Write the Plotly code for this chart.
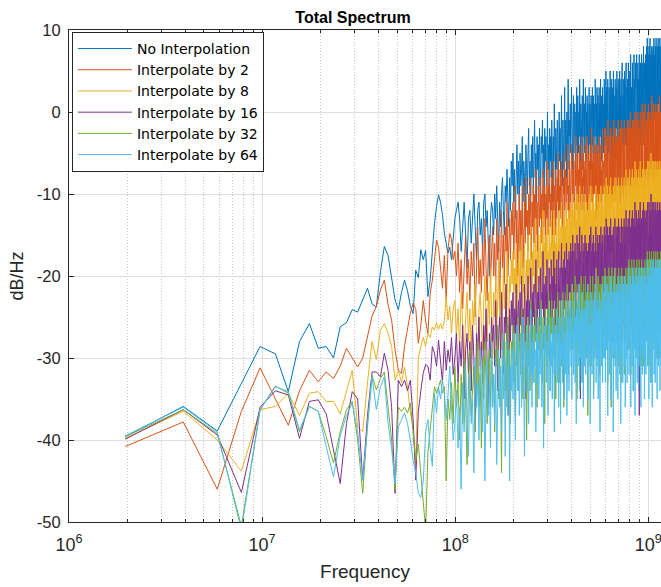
import plotly.graph_objects as go

# Frequency grid: FFT bin spacing of the spectrum estimate (Hz)
freq_step_hz = 1.953125e6

# Power spectral density of each version of the signal (dB/Hz), one value per bin
no_interp = [
    -39.6, -35.9, -38.9, -33.0, -28.6, -29.5, -34.1, -28.0, -25.8, -28.8,
    -28.6, -30.0, -26.2, -25.7, -24.1, -24.4, -22.9, -21.5, -23.4, -23.8,
    -19.5, -16.4, -17.5, -20.0, -22.9, -24.1, -22.0, -20.5, -21.8, -23.7,
    -24.6, -19.3, -20.2, -16.8, -18.0, -16.9, -22.5, -20.5, -16.5, -13.6,
    -11.5, -10.1, -11.0, -12.5, -14.8, -16.2, -17.2, -16.5, -18.0, -15.5,
    -13, -12, -11, -13, -17, -14, -11, -15, -19, -13,
    -12, -16, -13, -10, -14, -18, -12, -11, -15, -13,
    -17, -11, -10, -14, -12, -16, -20, -13, -11, -12,
    -15, -10, -13, -9, -12, -17, -11, -14, -10, -8,
    -12, -15, -9, -11, -7, -10, -14, -8, -12, -6,
    -9, -5, -11, -7, -13, -8, -4, -10, -6, -12,
    -5, -9, -7, -3, -11, -6, -8, -14, -4, -7,
    -10, -5, -2, -9, -6, -12, -4, -8, -3, -10,
    -6, -1, -8, -5, -11, -3, -7, -4, -9, -2,
    -6, -10, -3, -5, -1, -8, -4, -12, -2, -6,
    -3, -9, -5, 0, -7, -4, -10, -2, -6, -3,
    -8, -1, -5, -11, -3, -6, 1, -4, -9, -2,
    -5, -7, -1, -3, -10, -4, 0, -6, -2, -8,
    -4, 2, -5, -9, -1, -3, -7, -2, 3, -6,
    -1, -4, -8, 0, -5, -2, 4, -3, -7, -1,
    -3, 1, -5, -2, 3, -4, 0, -7, -1, 2,
    -5, -2, 1, -3, -8, 0, -4, 3, -1, -6,
    2, -2, -5, 0, -3, 4, -1, -6, 1, -3,
    -1, -4, 2, -2, -7, 4, 0, -3, 1, -5,
    -2, 3, -1, -6, 0, -3, 2, -4, 1, -2,
    -5, 0, 3, -2, -4, 1, -1, -7, 2, -3,
    0, -4, 3, -1, -5, 2, -2, -6, 1, -1,
    -3, 4, -2, 0, -5, 1, -3, 3, -1, -6,
    2, -2, 0, -4, 3, -1, -5, 1, -2, 4,
    -3, 0, -6, 2, -1, -4, 3, -2, 1, -5,
    1, -3, 4, -1, -5, 2, 0, -2, 5, -4,
    0, 3, -2, -6, 1, 4, -1, -3, 2, -5,
    3, -1, 0, -4, 5, -2, 1, -3, 2, -6,
    4, 0, -2, 3, -5, 1, -1, 5, -3, 0,
    2, -4, 1, -1, 4, -3, 0, -6, 3, 1,
    -2, 5, -1, 0, -4, 2, -3, 4, -1, -5,
    3, 0, -2, 5, -4, 1, -1, 2, -6, 4,
    0, -3, 3, -1, 6, -2, 1, -4, 2, 0,
    -5, 4, -1, 1, -3, 5, -2, 0, 3, -4,
    2, -1, 6, -3, 0, -5, 3, 1, -2, 4,
    -1, 3, 0, 6, -2, 2, -4, 4, 1, -3,
    5, 0, 2, -3, 7, -1, 1, -5, 3, 0,
    4, -2, 2, 6, -1, 0, -4, 5, 1, -2,
    3, 7, -1, 2, -3, 4, 0, -5, 6, 1,
    -2, 3, 5, -1, 0, 7, -3, 2, 4, -4,
    1, 6, -2, 3, 0, -5, 4, 2, -1, 7,
    0, -3, 5, 1, 3, -2, 6, -4, 2, 0,
    4, -1, 7, 2, -3, 5, 0, 3, -2, 6,
    1, -4, 4, 8, 0, 2, -2, 5, 3, -1,
    6, 0, -3, 4, 2, 7, -1, 1, 5, -2,
    3, 8, 0, 5, -2, 9, 2, 4, -1, 6,
    1, 7, 3, -3, 5, 2, 8, 0, 4, -1,
    6, 2, 9, 1, -2, 5, 3, 7, 0, 4,
    -1, 6, 2, 8, 3, -3, 5, 1, 7, 2,
    4, 0, 8, 3, -2, 6, 1, 9, 2, 5,
    0, 7, 3, -1, 5, 2, 8, 4, -2, 6,
    3, 9, 1, 5, -1, 7, 2, 4, 0, 8,
    2, 5, -2, 6, 3, 9, 1, 4, 7, 0,
    5, 2, 8, -1, 4, 6, 1, 9, 3, 5,
    0, 7, 4, 2, 8, -1, 5, 3, 6, 2,
]

interp_2 = [
    -40.8, -37.8, -46.0, -36.5, -31.2, -35.1, -38.2, -34.0, -31.5, -32.9,
    -31.7, -32.5, -31.0, -28.8, -30.0, -31.1, -30.0, -27.4, -24.9, -23.7,
    -21.7, -20.5, -23.5, -25.4, -29.0, -31.5, -31.9, -28.5, -26.2, -24.5,
    -23.3, -24.0, -28.2, -26.0, -23.0, -25.5, -27.0, -22.1, -20.5, -18.0,
    -15.6, -16.5, -19.0, -21.5, -17.5, -23.0, -16.8, -14.8, -15.5, -18.0,
    -17, -20, -16, -22, -18, -24, -19, -15, -21, -18,
    -23, -17, -20, -16, -25, -19, -14, -21, -18, -22,
    -16, -20, -13, -19, -23, -17, -15, -21, -18, -14,
    -20, -16, -22, -13, -18, -15, -24, -17, -12, -19,
    -15, -21, -14, -17, -11, -20, -16, -13, -18, -12,
    -15, -11, -18, -13, -9, -16, -12, -20, -14, -10,
    -17, -12, -15, -9, -19, -13, -11, -16, -8, -14,
    -12, -17, -10, -15, -8, -13, -18, -11, -14, -9,
    -16, -10, -13, -7, -15, -11, -19, -9, -12, -14,
    -8, -13, -10, -16, -11, -7, -14, -12, -9, -17,
    -10, -13, -6, -12, -15, -9, -11, -7, -14, -10,
    -12, -8, -16, -10, -6, -13, -9, -11, -15, -7,
    -10, -13, -8, -11, -5, -14, -9, -12, -7, -10,
    -13, -6, -9, -11, -15, -8, -10, -5, -12, -9,
    -7, -11, -14, -8, -10, -4, -12, -9, -13, -6,
    -9, -12, -6, -10, -4, -8, -13, -7, -11, -5,
    -10, -8, -14, -6, -9, -3, -11, -7, -12, -8,
    -5, -10, -7, -13, -9, -4, -11, -6, -8, -12,
    -7, -3, -10, -8, -12, -5, -9, -6, -14, -7,
    -10, -4, -8, -11, -6, -9, -3, -12, -7, -10,
    -5, -8, -13, -6, -9, -4, -11, -7, -10, -2,
    -8, -11, -6, -9, -5, -12, -7, -3, -10, -8,
    -6, -9, -4, -11, -7, -13, -5, -8, -10, -4,
    -9, -6, -12, -3, -8, -10, -5, -7, -11, -6,
    -4, -9, -7, -12, -5, -8, -2, -10, -6, -9,
    -7, -10, -4, -8, -2, -11, -6, -9, -5, -12,
    -3, -8, -6, -10, -4, -7, -1, -9, -5, -11,
    -6, -3, -9, -7, -12, -4, -8, -2, -10, -6,
    -8, -5, -11, -3, -7, -9, -4, -10, -1, -6,
    -9, -4, -7, -11, -2, -8, -5, -10, -6, -3,
    -10, -6, -8, -3, -12, -5, -7, -1, -9, -4,
    -6, -10, -3, -7, -5, -11, -2, -8, -4, -9,
    -5, -1, -8, -6, -10, -3, -7, -9, -2, -6,
    -11, -4, -7, -5, -1, -9, -6, -3, -8, -10,
    -4, -7, -2, -9, -5, -11, -3, -6, -8, -1,
    -6, -3, -9, -5, -1, -8, -4, -10, -2, -7,
    -5, -9, -3, -6, 0, -8, -4, -11, -2, -6,
    -3, -7, -5, -1, -9, -4, -6, -2, -10, -5,
    -7, -1, -4, -8, -3, -6, 0, -9, -5, -2,
    -8, -4, -6, -1, -10, -3, -5, -7, -2, -9,
    -4, 0, -6, -3, -8, -5, -1, -7, -4, -10,
    -2, -6, -4, -9, 0, -5, -3, -7, -1, -8,
    -5, -2, -9, -4, -6, 1, -7, -3, -5, -10,
    -1, -6, -3, -8, -4, 0, -7, -2, -9, -5,
    -3, -8, 1, -5, -2, -7, -4, -1, -9, -6,
    -4, -1, -7, -3, -9, -2, -6, 0, -5, -8,
    -3, -6, 1, -4, -8, -2, -5, -10, -1, -7,
    -4, 0, -6, -3, -9, -1, -5, -7, -2, -4,
    -8, -1, -5, 2, -6, -3, -9, -4, 0, -7,
    -3, -5, -1, -8, -4, 1, -6, -2, -10, -5,
    -1, -7, -3, -5, 0, -8, -4, -2, -6, 1,
    -5, -9, -2, -4, -7, 0, -3, -6, -1, -8,
    -4, -2, -7, 1, -5, -3, -9, -1, -6, -4,
    0, -5, -8, -2, -4, 2, -6, -3, -7, -1,
    -5, -2, -9, 0, -4, -6, -1, -3, -8, -2,
]

interp_8 = [
    -39.8, -36.5, -40.0, -43.8, -36.3, -35.9, -34.3, -37.0, -34.3, -34.1,
    -35.3, -35.3, -36.8, -33.9, -31.5, -38.4, -39.0, -33.0, -28.0, -30.2,
    -26.6, -25.8, -27.0, -28.6, -32.7, -31.5, -33.0, -31.1, -33.5, -36.7,
    -38.5, -43.0, -30.0, -28.6, -27.5, -28.6, -27.0, -27.5, -26.2, -26.6,
    -25.7, -26.5, -25.8, -26.5, -25.4, -22.5, -25.4, -23.7, -27.0, -24.0,
    -23, -27, -24, -29, -22, -26, -31, -25, -22, -28,
    -24, -30, -23, -26, -21, -27, -33, -24, -22, -26,
    -29, -23, -20, -25, -28, -22, -26, -19, -24, -30,
    -22, -25, -20, -27, -23, -18, -26, -21, -29, -22,
    -19, -24, -21, -26, -17, -23, -28, -20, -22, -18,
    -21, -17, -24, -19, -22, -16, -26, -20, -18, -23,
    -17, -21, -15, -25, -19, -22, -16, -20, -27, -18,
    -20, -15, -23, -18, -21, -14, -19, -24, -17, -20,
    -16, -22, -18, -13, -20, -25, -17, -19, -15, -21,
    -18, -14, -22, -17, -19, -12, -20, -16, -23, -18,
    -15, -19, -13, -21, -17, -24, -14, -18, -16, -20,
    -13, -17, -22, -15, -19, -12, -18, -14, -21, -16,
    -19, -13, -17, -15, -23, -12, -18, -16, -14, -20,
    -15, -11, -18, -14, -21, -16, -13, -19, -12, -17,
    -14, -18, -11, -16, -20, -13, -15, -22, -12, -17,
    -13, -17, -11, -15, -20, -12, -16, -10, -14, -18,
    -12, -15, -19, -11, -14, -22, -13, -16, -10, -17,
    -14, -11, -18, -13, -16, -9, -15, -19, -12, -14,
    -17, -10, -13, -16, -21, -12, -15, -11, -18, -14,
    -10, -16, -13, -19, -11, -15, -24, -12, -14, -17,
    -11, -13, -18, -10, -15, -12, -17, -9, -14, -20,
    -12, -16, -11, -14, -19, -10, -13, -17, -12, -15,
    -18, -11, -14, -9, -16, -13, -20, -12, -15, -10,
    -14, -17, -11, -13, -22, -10, -15, -12, -18, -13,
    -9, -14, -16, -11, -13, -19, -10, -15, -12, -17,
    -11, -15, -9, -13, -18, -10, -14, -12, -16, -8,
    -13, -17, -11, -14, -9, -20, -12, -15, -10, -13,
    -16, -9, -12, -14, -11, -18, -8, -13, -15, -10,
    -12, -16, -10, -13, -23, -11, -14, -9, -17, -12,
    -10, -14, -12, -8, -15, -11, -19, -13, -9, -16,
    -12, -10, -14, -17, -9, -13, -11, -15, -8, -12,
    -14, -18, -10, -12, -9, -16, -13, -11, -20, -10,
    -13, -8, -15, -11, -14, -12, -17, -9, -13, -11,
    -16, -10, -12, -8, -14, -19, -11, -13, -9, -15,
    -11, -14, -7, -12, -16, -10, -13, -9, -18, -12,
    -10, -14, -8, -12, -17, -9, -13, -11, -15, -7,
    -12, -16, -10, -13, -9, -11, -21, -10, -14, -8,
    -13, -10, -15, -7, -12, -16, -9, -11, -14, -10,
    -8, -13, -11, -17, -9, -12, -6, -14, -10, -12,
    -15, -9, -11, -7, -13, -18, -10, -12, -8, -14,
    -11, -9, -16, -10, -13, -7, -12, -15, -9, -11,
    -13, -8, -10, -14, -6, -12, -19, -9, -11, -13,
    -10, -14, -8, -12, -9, -16, -11, -7, -13, -10,
    -12, -9, -15, -6, -11, -13, -8, -10, -17, -9,
    -11, -7, -13, -10, -14, -8, -12, -16, -9, -11,
    -9, -13, -7, -11, -15, -8, -12, -10, -6, -14,
    -10, -12, -8, -16, -9, -11, -6, -13, -10, -18,
    -8, -11, -13, -7, -10, -14, -9, -12, -5, -11,
    -13, -8, -10, -15, -7, -12, -9, -11, -14, -6,
    -10, -12, -8, -13, -17, -9, -11, -6, -12, -10,
    -14, -8, -11, -7, -13, -10, -15, -9, -12, -6,
    -11, -9, -13, -16, -8, -10, -12, -7, -14, -9,
    -10, -13, -6, -11, -9, -15, -8, -12, -10, -7,
    -13, -9, -11, -20, -8, -12, -6, -10, -14, -9,
    -11, -7, -13, -9, -12, -8, -15, -10, -6, -11,
]

interp_16 = [
    -39.9, -36.3, -39.4, -46.4, -36.0, -34.0, -34.5, -39.8, -35.3, -35.1,
    -36.8, -41.2, -45.3, -38.0, -34.1, -35.0, -44.9, -37.0, -31.7, -31.7,
    -32.3, -29.4, -31.5, -36.0, -46.5, -32.7, -33.5, -32.7, -34.0, -32.7,
    -37.5, -44.9, -36.5, -34.0, -31.8, -30.8, -31.0, -32.7, -28.6, -29.4,
    -31.0, -27.8, -30.2, -33.0, -28.0, -31.5, -29.0, -30.5, -27.5, -32.0,
    -30, -27, -33, -28, -31, -26, -35, -29, -27, -32,
    -28, -34, -26, -30, -39, -27, -29, -25, -31, -28,
    -33, -26, -29, -24, -31, -36, -27, -30, -25, -28,
    -26, -31, -23, -29, -34, -27, -25, -30, -22, -28,
    -32, -25, -27, -21, -29, -26, -37, -24, -28, -23,
    -26, -22, -29, -24, -27, -21, -31, -25, -23, -28,
    -22, -26, -20, -30, -24, -27, -21, -25, -35, -23,
    -25, -20, -28, -23, -26, -19, -24, -29, -22, -25,
    -21, -27, -23, -18, -25, -30, -22, -24, -20, -26,
    -23, -19, -27, -22, -24, -17, -25, -21, -28, -23,
    -20, -24, -18, -26, -22, -29, -19, -23, -21, -25,
    -18, -22, -27, -20, -24, -17, -23, -19, -33, -21,
    -24, -18, -22, -20, -28, -17, -23, -21, -19, -25,
    -20, -16, -23, -19, -26, -21, -18, -24, -17, -22,
    -19, -23, -16, -21, -25, -18, -20, -27, -17, -22,
    -18, -22, -16, -20, -25, -17, -21, -15, -19, -23,
    -17, -20, -24, -16, -19, -27, -18, -21, -15, -22,
    -19, -16, -23, -18, -21, -14, -20, -35, -17, -19,
    -22, -15, -18, -21, -26, -17, -20, -16, -23, -19,
    -15, -21, -18, -24, -16, -20, -29, -17, -19, -22,
    -16, -18, -23, -15, -20, -17, -22, -14, -19, -25,
    -17, -21, -16, -19, -24, -15, -18, -22, -17, -20,
    -23, -16, -19, -14, -21, -18, -25, -17, -20, -15,
    -19, -22, -16, -18, -27, -15, -20, -17, -23, -18,
    -14, -19, -21, -16, -18, -24, -15, -20, -17, -22,
    -16, -20, -14, -18, -23, -15, -19, -17, -21, -13,
    -18, -22, -16, -19, -14, -25, -17, -20, -15, -18,
    -21, -14, -17, -19, -16, -23, -13, -18, -20, -15,
    -17, -21, -15, -18, -28, -16, -19, -14, -22, -17,
    -15, -19, -17, -13, -20, -16, -24, -18, -14, -21,
    -17, -15, -19, -22, -14, -18, -16, -20, -13, -17,
    -19, -23, -15, -17, -14, -21, -18, -16, -25, -15,
    -18, -13, -20, -16, -19, -17, -22, -14, -18, -16,
    -21, -15, -17, -13, -19, -24, -16, -18, -14, -20,
    -16, -19, -12, -17, -21, -15, -18, -14, -23, -17,
    -15, -19, -13, -17, -22, -14, -18, -16, -20, -12,
    -17, -21, -15, -18, -14, -16, -26, -15, -19, -13,
    -18, -15, -20, -12, -17, -21, -14, -16, -19, -15,
    -13, -18, -16, -22, -14, -17, -11, -19, -15, -17,
    -20, -14, -16, -12, -18, -23, -15, -17, -13, -19,
    -16, -14, -21, -15, -18, -12, -17, -20, -14, -37,
    -18, -13, -15, -19, -11, -17, -24, -14, -16, -18,
    -15, -19, -13, -17, -14, -21, -16, -12, -18, -15,
    -17, -14, -20, -11, -16, -18, -13, -15, -22, -14,
    -16, -12, -18, -15, -19, -13, -17, -21, -14, -16,
    -14, -18, -12, -16, -20, -13, -17, -15, -11, -19,
    -15, -17, -13, -21, -14, -16, -11, -18, -15, -23,
    -13, -16, -18, -12, -15, -19, -14, -17, -10, -16,
    -18, -13, -15, -20, -12, -17, -14, -16, -19, -11,
    -15, -17, -13, -18, -22, -14, -16, -11, -17, -15,
    -19, -13, -16, -12, -18, -15, -20, -14, -17, -11,
    -16, -14, -18, -21, -13, -15, -17, -12, -19, -14,
    -15, -18, -11, -16, -14, -20, -13, -17, -15, -12,
    -18, -14, -16, -25, -13, -17, -11, -15, -19, -14,
    -16, -12, -18, -14, -17, -13, -20, -15, -11, -16,
]

interp_32 = [
    -39.6, -36.3, -39.2, -50.5, -36.3, -33.4, -34.3, -39.0, -35.9, -36.5,
    -39.6, -42.8, -39.0, -36.3, -35.3, -40.0, -46.5, -38.0, -32.1, -33.9,
    -32.5, -31.7, -36.0, -40.0, -46.1, -36.0, -36.5, -36.0, -36.7, -35.5,
    -39.0, -42.5, -40.5, -44.0, -48.0, -51.0, -41.5, -39.0, -36.5, -33.5,
    -34.3, -33.5, -32.7, -34.3, -33.5, -45.0, -35.0, -37.5, -33.0, -38.0,
    -31, -36, -33, -40, -32, -38, -30, -35, -43, -33,
    -29, -37, -34, -31, -39, -33, -28, -36, -32, -41,
    -30, -35, -28, -33, -38, -31, -29, -36, -27, -34,
    -32, -39, -29, -31, -26, -35, -30, -33, -44, -28,
    -31, -27, -34, -30, -36, -25, -32, -29, -38, -28,
    -30, -26, -33, -28, -37, -27, -31, -25, -34, -29,
    -27, -32, -24, -30, -35, -28, -26, -33, -29, -40,
    -28, -25, -31, -27, -34, -23, -29, -32, -26, -30,
    -33, -26, -28, -24, -30, -36, -27, -29, -25, -31,
    -26, -30, -23, -28, -33, -25, -29, -27, -38, -24,
    -29, -26, -31, -24, -28, -22, -30, -27, -34, -25,
    -27, -23, -29, -32, -25, -28, -24, -30, -26, -35,
    -24, -28, -26, -22, -30, -25, -33, -27, -23, -29,
    -26, -31, -24, -28, -22, -27, -36, -25, -29, -23,
    -27, -24, -30, -26, -21, -28, -25, -32, -24, -27,
    -25, -22, -28, -24, -31, -21, -26, -23, -29, -25,
    -22, -27, -24, -20, -30, -25, -23, -28, -35, -24,
    -26, -21, -29, -23, -25, -32, -22, -27, -24, -20,
    -28, -24, -26, -22, -33, -25, -21, -29, -23, -27,
    -24, -20, -28, -25, -22, -30, -26, -23, -37, -24,
    -21, -27, -24, -29, -22, -26, -20, -25, -31, -23,
    -27, -22, -25, -20, -28, -24, -34, -23, -26, -21,
    -25, -29, -22, -26, -24, -19, -27, -23, -30, -24,
    -22, -26, -20, -28, -25, -23, -32, -21, -27, -24,
    -26, -21, -29, -23, -25, -20, -28, -24, -22, -30,
    -23, -20, -27, -22, -25, -19, -30, -24, -21, -26,
    -22, -28, -20, -25, -23, -33, -21, -26, -24, -19,
    -27, -22, -25, -20, -29, -23, -21, -26, -36, -22,
    -24, -19, -27, -22, -25, -21, -28, -23, -20, -26,
    -22, -30, -24, -20, -26, -23, -19, -27, -22, -25,
    -21, -28, -23, -26, -20, -24, -31, -22, -25, -19,
    -26, -22, -24, -29, -21, -25, -20, -27, -23, -33,
    -22, -25, -19, -26, -23, -28, -21, -24, -20, -26,
    -24, -21, -27, -22, -32, -20, -25, -23, -28, -21,
    -25, -19, -23, -26, -21, -29, -22, -24, -20, -27,
    -22, -19, -26, -21, -24, -18, -29, -23, -20, -25,
    -21, -27, -19, -24, -22, -32, -20, -25, -23, -18,
    -26, -21, -24, -19, -28, -22, -20, -25, -34, -21,
    -23, -18, -26, -21, -24, -20, -27, -22, -19, -25,
    -21, -29, -23, -19, -25, -22, -18, -26, -21, -24,
    -20, -27, -22, -25, -19, -23, -30, -21, -24, -18,
    -25, -21, -23, -28, -20, -24, -19, -26, -22, -31,
    -21, -24, -18, -25, -22, -27, -20, -23, -19, -25,
    -23, -20, -26, -21, -31, -19, -24, -22, -27, -20,
    -24, -18, -22, -25, -20, -28, -21, -23, -19, -26,
    -21, -18, -25, -20, -23, -17, -28, -22, -19, -24,
    -20, -26, -18, -23, -21, -31, -19, -24, -22, -17,
    -25, -20, -23, -18, -27, -21, -19, -24, -33, -20,
    -22, -17, -25, -20, -23, -19, -26, -21, -18, -24,
    -20, -28, -22, -18, -24, -21, -17, -25, -20, -23,
    -19, -26, -21, -24, -18, -22, -29, -20, -23, -17,
    -24, -20, -22, -27, -19, -23, -18, -25, -21, -30,
    -20, -23, -17, -24, -21, -26, -19, -22, -18, -24,
    -22, -19, -25, -20, -30, -18, -23, -21, -26, -19,
    -23, -17, -21, -24, -19, -27, -20, -22, -18, -25,
]

interp_64 = [
    -39.5, -36.0, -39.0, -51.0, -36.3, -33.5, -34.1, -38.8, -35.9, -36.5,
    -40.8, -44.5, -39.5, -37.0, -35.5, -39.0, -44.9, -38.0, -32.3, -36.3,
    -33.5, -32.3, -38.0, -41.0, -45.3, -38.4, -37.5, -36.7, -38.0, -40.0,
    -42.5, -44.0, -46.5, -47.0, -45.0, -39.0, -37.5, -41.0, -43.2, -34.3,
    -36.7, -33.5, -35.0, -32.7, -34.3, -37.5, -34.5, -31.0, -36.0, -40.0,
    -38, -34, -41, -36, -46, -33, -39, -31, -37, -42,
    -32, -38, -35, -44, -30, -36, -33, -40, -29, -35,
    -39, -31, -45, -34, -30, -37, -33, -41, -28, -36,
    -32, -38, -30, -43, -34, -29, -36, -31, -39, -27,
    -35, -30, -42, -28, -33, -37, -29, -45, -31, -34,
    -29, -35, -27, -32, -40, -30, -26, -34, -28, -37,
    -31, -27, -36, -29, -25, -33, -42, -28, -31, -26,
    -34, -29, -38, -27, -32, -24, -30, -36, -28, -33,
    -26, -31, -29, -39, -27, -33, -25, -30, -35, -28,
    -32, -24, -29, -36, -27, -31, -41, -26, -30, -28,
    -25, -33, -28, -30, -37, -26, -29, -24, -34, -27,
    -31, -28, -35, -25, -30, -27, -39, -29, -26, -32,
    -28, -24, -33, -29, -27, -36, -25, -31, -28, -38,
    -26, -30, -23, -33, -28, -31, -25, -35, -27, -29,
    -32, -24, -28, -37, -26, -30, -23, -29, -34, -27,
    -25, -29, -23, -31, -27, -35, -24, -28, -26, -32,
    -30, -22, -27, -33, -25, -29, -38, -24, -28, -26,
    -23, -31, -26, -29, -21, -34, -27, -25, -30, -24,
    -28, -33, -22, -27, -25, -36, -29, -24, -31, -26,
    -24, -28, -32, -23, -27, -25, -30, -21, -35, -27,
    -29, -25, -23, -31, -26, -38, -24, -28, -22, -30,
    -26, -32, -25, -28, -23, -29, -35, -24, -27, -22,
    -30, -25, -28, -21, -33, -26, -24, -31, -27, -23,
    -28, -35, -24, -26, -30, -22, -27, -39, -25, -29,
    -23, -27, -31, -25, -28, -21, -33, -26, -24, -30,
    -26, -22, -30, -25, -28, -20, -33, -24, -27, -23,
    -29, -25, -21, -31, -26, -37, -23, -28, -24, -22,
    -27, -32, -24, -26, -20, -29, -25, -35, -23, -28,
    -21, -26, -30, -24, -27, -22, -39, -25, -28, -23,
    -26, -20, -29, -24, -31, -22, -27, -25, -34, -21,
    -28, -24, -26, -30, -22, -35, -25, -27, -20, -29,
    -23, -27, -25, -32, -21, -26, -29, -24, -38, -22,
    -27, -24, -30, -20, -26, -28, -23, -33, -25, -21,
    -29, -25, -22, -27, -31, -24, -26, -20, -36, -27,
    -23, -28, -25, -21, -30, -26, -24, -33, -22, -27,
    -25, -21, -29, -24, -27, -19, -32, -23, -26, -22,
    -28, -24, -20, -30, -25, -36, -22, -27, -23, -21,
    -26, -31, -23, -25, -19, -28, -24, -34, -22, -27,
    -20, -25, -29, -23, -26, -21, -37, -24, -27, -22,
    -25, -19, -28, -23, -30, -21, -26, -24, -33, -20,
    -27, -23, -25, -29, -21, -34, -24, -26, -19, -28,
    -22, -26, -24, -31, -20, -25, -28, -23, -36, -21,
    -26, -23, -29, -19, -25, -27, -22, -32, -24, -20,
    -28, -24, -21, -26, -30, -23, -25, -19, -35, -26,
    -22, -27, -24, -20, -29, -25, -23, -32, -21, -26,
    -24, -20, -28, -23, -26, -18, -31, -22, -25, -21,
    -27, -23, -19, -29, -24, -35, -21, -26, -22, -20,
    -25, -30, -22, -24, -18, -27, -23, -33, -21, -26,
    -19, -24, -28, -22, -25, -20, -36, -23, -26, -21,
    -24, -18, -27, -22, -29, -20, -25, -23, -32, -19,
    -26, -22, -24, -28, -20, -33, -23, -25, -18, -27,
    -21, -25, -23, -30, -19, -24, -27, -22, -35, -20,
    -25, -22, -28, -18, -24, -26, -21, -31, -23, -19,
    -27, -23, -20, -25, -29, -22, -24, -18, -34, -25,
    -21, -26, -23, -19, -28, -24, -22, -31, -20, -25,
]

series_names = [
    "No Interpolation",
    "Interpolate by 2",
    "Interpolate by 8",
    "Interpolate by 16",
    "Interpolate by 32",
    "Interpolate by 64",
]
series_values = [no_interp, interp_2, interp_8, interp_16, interp_32, interp_64]
series_colors = ["#0072BD", "#D95319", "#EDB120", "#7E2F8E", "#77AC30", "#4DBEEE"]

freq_hz = [freq_step_hz * (i + 1) for i in range(len(no_interp))]

y_ticks = [-50, -40, -30, -20, -10, 0, 10]
x_ticks = [1e6, 1e7, 1e8, 1e9]
x_tick_text = ["10<sup>6</sup>", "10<sup>7</sup>", "10<sup>8</sup>", "10<sup>9</sup>"]
x_minor = [m * 10 ** e for e in range(6, 10) for m in range(2, 10)]

axis_color = "#262626"
font_family = "Liberation Sans, Arial, sans-serif"

fig = go.Figure()
for name, vals, color in zip(series_names, series_values, series_colors):
    fig.add_trace(go.Scatter(
        x=freq_hz, y=vals, mode="lines", name=name,
        line=dict(color=color, width=1),
    ))

fig.update_layout(
    width=661, height=587,
    margin=dict(l=69, r=0, t=30, b=65),
    paper_bgcolor="white", plot_bgcolor="white",
    font=dict(family=font_family, color=axis_color, size=16),
    title=dict(
        text="<b>Total Spectrum</b>",
        x=(353 - 69) / 592, xref="paper", xanchor="center",
        y=1 - 17 / 587, yref="container", yanchor="middle",
        font=dict(size=16, color="#000000", family=font_family),
    ),
    showlegend=True,
    legend=dict(
        x=0.005, y=0.996, xanchor="left", yanchor="top",
        bgcolor="white", bordercolor=axis_color, borderwidth=1,
        font=dict(size=14, color="#000000", family="DejaVu Sans, sans-serif"),
        itemwidth=54, tracegroupgap=0,
    ),
)

fig.update_xaxes(
    type="log", range=[6, 9.066],
    tickmode="array", tickvals=x_ticks, ticktext=x_tick_text,
    ticks="inside", ticklen=5, tickcolor=axis_color,
    showline=True, linecolor=axis_color, linewidth=1, mirror="ticks",
    showgrid=True, gridcolor="#dedede", gridwidth=1,
    minor=dict(
        tickmode="array", tickvals=x_minor,
        ticks="inside", ticklen=3, tickcolor=axis_color,
        showgrid=True, gridcolor="#c4c4c4", griddash="1px,2px", gridwidth=1,
    ),
    tickfont=dict(size=18, color=axis_color),
    ticklabelstandoff=6,
    ticklabeloverflow="allow",
    title=dict(text="Frequency", font=dict(size=19, color=axis_color), standoff=11),
    zeroline=False,
)

fig.update_yaxes(
    range=[-50, 10],
    tickmode="array", tickvals=y_ticks, ticktext=[str(v) for v in y_ticks],
    ticks="inside", ticklen=5, tickcolor=axis_color,
    showline=True, linecolor=axis_color, linewidth=1,
    showgrid=True, gridcolor="#dedede", gridwidth=1,
    zeroline=False,
    tickfont=dict(size=16.5, color=axis_color),
    ticklabelstandoff=4,
    title=dict(text="dB/Hz", font=dict(size=18, color=axis_color), standoff=8),
)

fig.write_html("out.html")
